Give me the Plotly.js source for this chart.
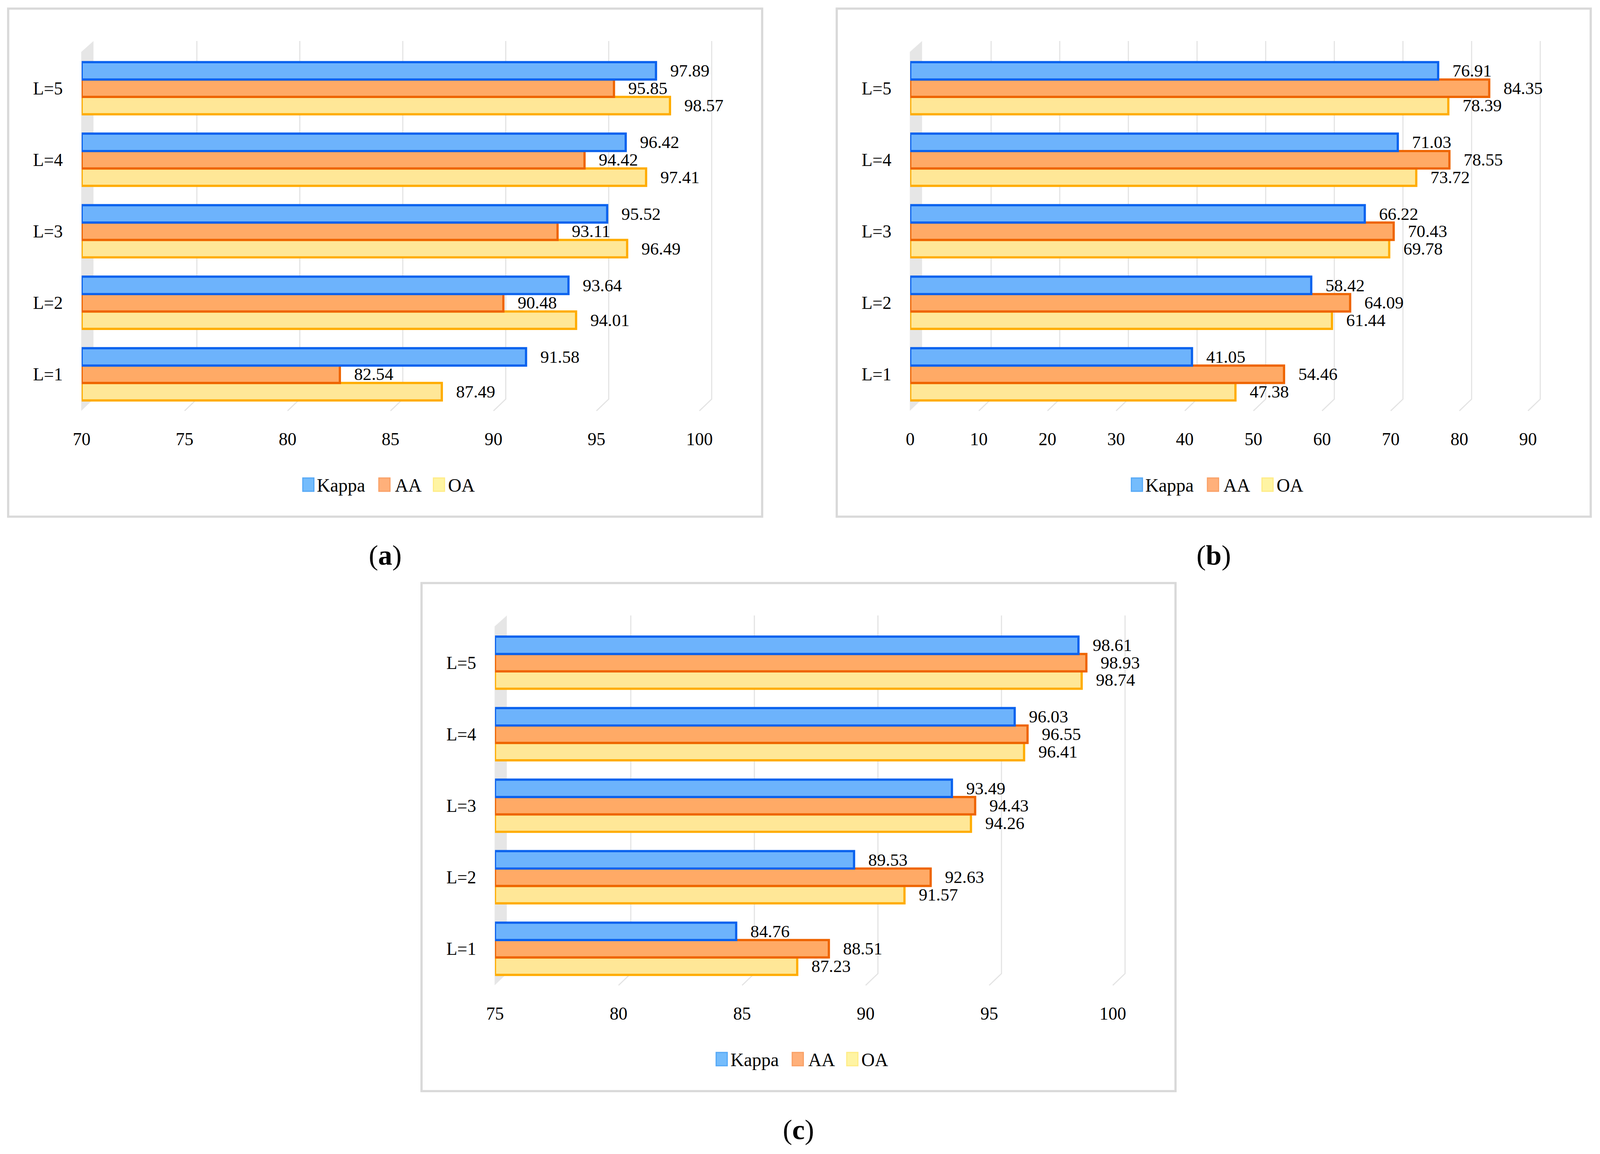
<!DOCTYPE html>
<html>
<head>
<meta charset="utf-8">
<script src="https://cdn.plot.ly/plotly-3.0.1.min.js"></script>
<style>html,body{margin:0;padding:0;background:#fff;overflow:hidden;}</style>
</head>
<body>
<div id="chart"></div>
<script>
// ---------- data ----------
const categories = ['L=1', 'L=2', 'L=3', 'L=4', 'L=5'];

const kappaA = [91.58, 93.64, 95.52, 96.42, 97.89];
const aaA    = [82.54, 90.48, 93.11, 94.42, 95.85];
const oaA    = [87.49, 94.01, 96.49, 97.41, 98.57];

const kappaB = [41.05, 58.42, 66.22, 71.03, 76.91];
const aaB    = [54.46, 64.09, 70.43, 78.55, 84.35];
const oaB    = [47.38, 61.44, 69.78, 73.72, 78.39];

const kappaC = [84.76, 89.53, 93.49, 96.03, 98.61];
const aaC    = [88.51, 92.63, 94.43, 96.55, 98.93];
const oaC    = [87.23, 91.57, 94.26, 96.41, 98.74];

const ticksA = [70, 75, 80, 85, 90, 95, 100];
const ticksB = [0, 10, 20, 30, 40, 50, 60, 70, 80, 90];
const ticksC = [75, 80, 85, 90, 95, 100];

const panelLabels = ['a', 'b', 'c'];
const seriesNames = ['Kappa', 'AA', 'OA'];

// ---------- sizing (reference is 4312 x 2955); fill the whole viewport ----------
const RW = 4312, RH = 2955;
const W = window.innerWidth || RW;
const H = window.innerHeight || RH;
const s = Math.min(W / RW, H / RH);
document.getElementById('chart').style.width = W + 'px';
document.getElementById('chart').style.height = H + 'px';

const FONT = 'Liberation Serif, Times New Roman, serif';
const fills = {Kappa: '#6DB3FC', AA: '#FFAA66', OA: '#FFE797'};
const lines = {Kappa: '#0A62EE', AA: '#EE6400', OA: '#FFAC00'};
const legFill = {Kappa: '#74BCFC', AA: '#FFB07A', OA: '#FFF4A3'};
const legLine = {Kappa: '#55A8F6', AA: '#F9A066', OA: '#FFEC85'};

const panels = [
  {L: 22,   T: 22,   ticks: ticksA, range: [70, 100], data: {Kappa: kappaA, AA: aaA, OA: oaA}},
  {L: 2255, T: 22,   ticks: ticksB, range: [0, 90],   data: {Kappa: kappaB, AA: aaB, OA: oaB}},
  {L: 1136, T: 1493, ticks: ticksC, range: [75, 100], data: {Kappa: kappaC, AA: aaC, OA: oaC}}
];

const px = x => x / RW;
const py = y => 1 - y / RH;

const traces = [];
const layout = {
  width: W, height: H,
  margin: {l: 0, r: 0, t: 0, b: 0},
  paper_bgcolor: '#ffffff',
  plot_bgcolor: 'rgba(0,0,0,0)',
  barmode: 'group',
  bargap: 0.27,
  bargroupgap: 0,
  font: {family: FONT, color: '#000000', size: 48 * s},
  shapes: [],
  annotations: [],
  showlegend: false
};

panels.forEach((p, i) => {
  const suf = i === 0 ? '' : String(i + 1);
  const xName = 'xaxis' + suf, yName = 'yaxis' + suf;
  const xRef = 'x' + suf, yRef = 'y' + suf;

  const x0 = p.L + 198, x1 = p.L + 1863;
  const yTop = p.T + 83, yBot = p.T + 1028;

  layout[xName] = {
    domain: [px(x0), px(x1)],
    range: p.range,
    anchor: yRef,
    tickvals: p.ticks,
    ticktext: p.ticks.map(String),
    showgrid: false,
    zeroline: false,
    showline: false,
    ticks: 'outside', ticklen: 36 * s, tickcolor: 'rgba(0,0,0,0)',
    tickfont: {family: FONT, size: 48 * s, color: '#000'},
    fixedrange: true
  };
  layout[yName] = {
    domain: [py(yBot), py(yTop)],
    anchor: xRef,
    type: 'category',
    categoryorder: 'array',
    categoryarray: categories,
    range: [-0.5, 4.66],
    showgrid: false, zeroline: false, showline: false,
    ticks: 'outside', ticklen: 40 * s, tickcolor: 'rgba(0,0,0,0)',
    tickfont: {family: FONT, size: 48 * s, color: '#000'},
    fixedrange: true
  };

  // bars: OA first (bottom of group), Kappa last (top of group)
  ['OA', 'AA', 'Kappa'].forEach(name => {
    const vals = p.data[name];
    traces.push({
      type: 'bar',
      orientation: 'h',
      name: name,
      y: categories,
      base: p.range[0],
      x: vals.map(v => v - p.range[0]),
      text: vals.map(v => '\u00a0\u00a0\u00a0' + v.toFixed(2)),
      textposition: 'outside',
      constraintext: 'none',
      cliponaxis: false,
      textfont: {family: FONT, size: 47 * s, color: '#000'},
      marker: {color: fills[name], line: {color: lines[name], width: 6 * s}},
      xaxis: xRef, yaxis: yRef,
      showlegend: false,
      hoverinfo: 'skip'
    });
  });

  // outer frame
  layout.shapes.push({
    type: 'rect', xref: 'paper', yref: 'paper', layer: 'below',
    x0: px(p.L), x1: px(p.L + 2032), y0: py(p.T), y1: py(p.T + 1301),
    line: {color: '#D9D9D9', width: 6 * s}, fillcolor: 'rgba(0,0,0,0)'
  });

  // 3D-style side wall
  const wl = p.L + 197, wr = p.L + 230;
  layout.shapes.push({
    type: 'path', xref: 'paper', yref: 'paper', layer: 'below',
    path: `M ${px(wl)},${py(p.T + 111)} L ${px(wr)},${py(p.T + 83)} L ${px(wr)},${py(p.T + 1000)} L ${px(wl)},${py(p.T + 1030)} Z`,
    fillcolor: '#E6E6E6', line: {width: 0}
  });

  // back-plane gridlines (3D style: vertical then slanted to the tick)
  const span = x1 - x0;
  p.ticks.forEach((t, k) => {
    if (k === 0) return;
    const gx = x0 + (t - p.range[0]) / (p.range[1] - p.range[0]) * span;
    layout.shapes.push({
      type: 'path', xref: 'paper', yref: 'paper', layer: 'below',
      path: `M ${px(gx)},${py(p.T + 1030)} L ${px(gx + 33)},${py(p.T + 1000)} L ${px(gx + 33)},${py(p.T + 83)}`,
      line: {color: '#E3E3E3', width: 3 * s}
    });
  });

  // legend (drawn with shapes + text)
  const legX = [794, 999, 1146];
  const legTextX = [830, 1040, 1183];
  seriesNames.forEach((name, k) => {
    layout.shapes.push({
      type: 'rect', xref: 'paper', yref: 'paper', layer: 'above',
      x0: px(p.L + legX[k]), x1: px(p.L + legX[k] + 30),
      y0: py(p.T + 1202), y1: py(p.T + 1236),
      fillcolor: legFill[name], line: {color: legLine[name], width: 3 * s}
    });
    layout.annotations.push({
      xref: 'paper', yref: 'paper',
      x: px(p.L + legTextX[k]), y: py(p.T + 1221),
      xanchor: 'left', yanchor: 'middle',
      text: name, showarrow: false,
      font: {family: FONT, size: 50 * s, color: '#000'}
    });
  });

  // panel caption
  layout.annotations.push({
    xref: 'paper', yref: 'paper',
    x: px(p.L + 1016), y: py(p.T + 1400),
    xanchor: 'center', yanchor: 'middle',
    text: '(<b>' + panelLabels[i] + '</b>)',
    showarrow: false,
    font: {family: FONT, size: 76 * s, color: '#000'}
  });
});

Plotly.newPlot('chart', traces, layout, {displayModeBar: false, staticPlot: true});
</script>
</body>
</html>
